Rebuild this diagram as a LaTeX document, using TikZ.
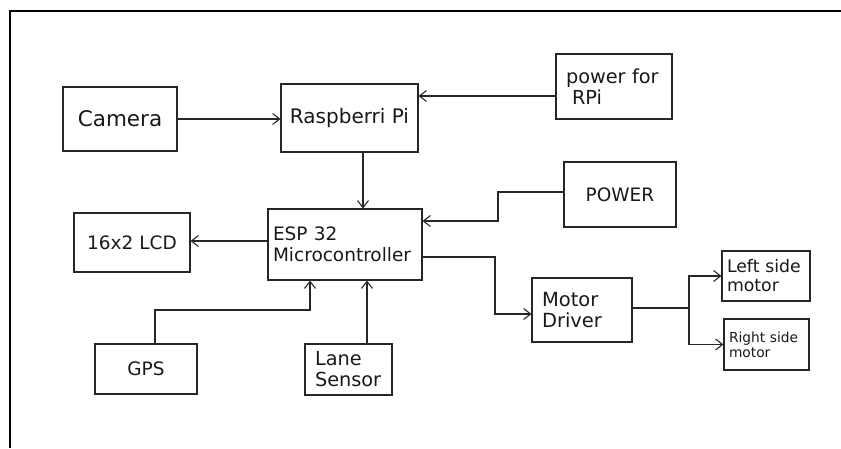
\documentclass[tikz,border=0pt]{standalone}
\usepackage{fontspec}
\setmainfont{DejaVu Sans}
\usetikzlibrary{arrows.meta}
\begin{document}
\begin{tikzpicture}[x=1pt,y=-1pt,
  box/.style={draw=black!85, line width=1.1pt, rectangle, inner sep=0pt,
    font=\fontsize{18.5}{21}\selectfont, text=black!90},
  arr/.style={draw=black!85, line width=1.1pt, -{Straight Barb[length=7pt,width=11pt]}},
  ln/.style={draw=black!85, line width=1.1pt}]
\useasboundingbox (0,0) rectangle (841,448);
\draw[line width=2pt] (10,448) -- (10,11) -- (841,11);

\node[box, minimum width=114pt, minimum height=64pt, font=\fontsize{21.5}{24}\selectfont] (cam) at (120,119) {Camera};
\node[box, minimum width=137pt, minimum height=68pt, font=\fontsize{20}{23}\selectfont] (rpi) at (349.5,118) {Raspberri Pi};
\node[box, minimum width=116pt, minimum height=65pt, text width=96pt, align=left, font=\fontsize{19.3}{20.5}\selectfont] (prpi) at (614,86.5) {power for\\\hspace*{6pt}RPi};
\node[box, minimum width=154pt, minimum height=71pt, text width=144pt, align=left] (esp) at (345,244.5) {ESP 32\\Microcontroller};
\node[box, minimum width=116pt, minimum height=59pt] (lcd) at (132,242.5) {16x2 LCD};
\node[box, minimum width=112pt, minimum height=65pt] (power) at (620,194.5) {POWER};
\node[box, minimum width=102pt, minimum height=50pt] (gps) at (146,369) {GPS};
\node[box, minimum width=87pt, minimum height=51pt, text width=67pt, align=left, font=\fontsize{19.3}{21}\selectfont] (lane) at (348.5,369.5) {Lane\\Sensor};
\node[box, minimum width=100pt, minimum height=64pt, text width=80pt, align=left, font=\fontsize{19.5}{20.5}\selectfont] (motor) at (582,310) {Motor\\Driver};
\node[box, minimum width=88pt, minimum height=50pt, text width=78pt, align=left, font=\fontsize{17.3}{19}\selectfont] (left) at (766,276) {Left side\\motor};
\node[box, minimum width=85pt, minimum height=51pt, text width=75pt, align=left, font=\fontsize{13.8}{15}\selectfont] (right) at (766.5,344.5) {Right side\\motor};

\coordinate (split) at (689,308);

\draw[arr] (cam.east) -- (cam.east -| rpi.west);
\draw[arr] (prpi.west |- 0,96) -- (rpi.east |- 0,96);
\draw[arr] (rpi.south -| 363,0) -- (esp.north -| 363,0);
\draw[arr] (power.west |- 0,192) -- (498,192) -- (498,221) -- (esp.east |- 0,221);
\draw[arr] (esp.west |- 0,241) -- (lcd.east |- 0,241);
\draw[arr] (gps.north -| 155,0) -- (155,310) -- (310,310) -- (esp.south -| 310,0);
\draw[arr] (lane.north -| 367,0) -- (esp.south -| 367,0);
\draw[arr] (esp.east |- 0,257) -- (495,257) -- (495,314) -- (motor.west |- 0,314);
\draw[ln] (motor.east |- split) -- (split);
\draw[arr] (split) |- (left.west);
\draw[arr] (split) |- (right.west);
\end{tikzpicture}
\end{document}
